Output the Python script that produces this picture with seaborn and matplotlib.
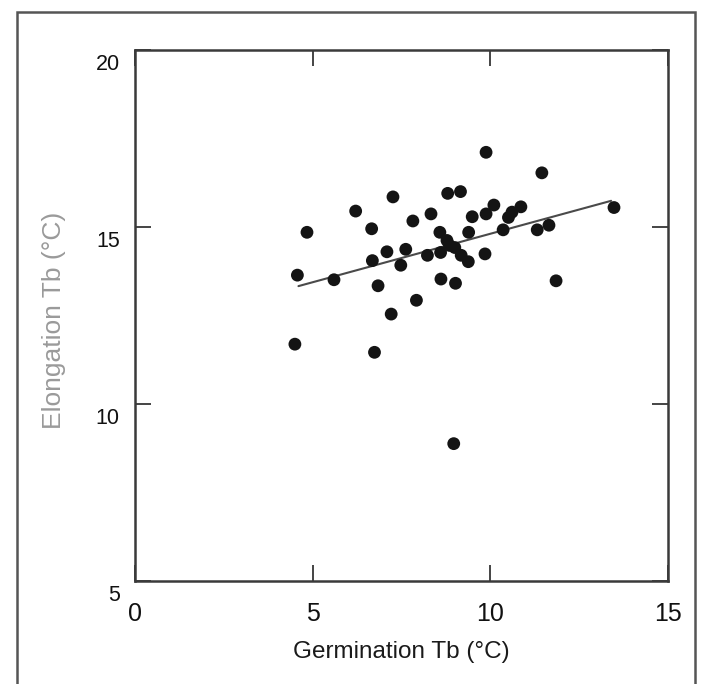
import matplotlib
matplotlib.use("Agg")
import matplotlib.pyplot as plt
import matplotlib.transforms as mtransforms
from matplotlib.patches import Rectangle
import seaborn as sns
import pandas as pd

# Points
germination_tb = [9.88, 11.45, 8.80, 9.16, 7.26, 6.21, 8.33, 7.82, 10.10, 9.88,
                  9.49, 10.86, 10.61, 10.51, 13.48, 4.84, 6.66, 10.36, 11.32, 11.65,
                  9.39, 8.58, 8.78, 9.00, 7.09, 7.62, 6.68, 7.48, 8.23, 9.18,
                  9.85, 9.38, 4.57, 5.60, 6.84, 8.61, 9.02, 11.85, 7.92, 7.21,
                  4.50, 6.74, 8.97, 8.60, 8.85]
elongation_tb = [17.11, 16.53, 15.95, 16.00, 15.85, 15.45, 15.37, 15.17, 15.62, 15.37,
                 15.29, 15.57, 15.42, 15.27, 15.55, 14.85, 14.95, 14.92, 14.92, 15.05,
                 14.85, 14.85, 14.62, 14.42, 14.30, 14.37, 14.05, 13.92, 14.20, 14.20,
                 14.24, 14.02, 13.64, 13.51, 13.34, 13.53, 13.41, 13.48, 12.93, 12.54,
                 11.69, 11.46, 8.88, 14.28, 14.48]

# fitted line, end points
fit_x = [4.6, 13.4]
fit_y = [13.33, 15.74]

x_ticks = [0, 5, 10, 15]
y_ticks = [5, 10, 15, 20]

df = pd.DataFrame({"germ": germination_tb, "elong": elongation_tb})
fit = pd.DataFrame({"x": fit_x, "y": fit_y})

sns.set_style("white")
plt.rcParams["font.family"] = ["Liberation Sans", "DejaVu Sans"]

fig = plt.figure(figsize=(7.02, 6.84), dpi=100)
ax = fig.add_axes([135 / 702, 1 - 581 / 684, 533 / 702, 531 / 684])

sns.scatterplot(data=df, x="germ", y="elong", ax=ax, s=85, color="#141414",
                edgecolor="none", zorder=3)
sns.lineplot(data=fit, x="x", y="y", ax=ax, color="#4a4a4a", linewidth=1.5, zorder=2)

ax.set_xlim(0, 15)
ax.set_ylim(5, 20)
ax.set_xticks(x_ticks)
ax.set_yticks(y_ticks)
ax.set_xticklabels([str(t) for t in x_ticks])
ax.set_yticklabels([str(t) for t in y_ticks])

ax.tick_params(axis="both", which="major", direction="in", length=11.5, width=1.4,
               color="#444444", top=True, right=True, bottom=True, left=True)
ax.tick_params(axis="x", labelsize=18, pad=15, labelcolor="#111111")
ax.tick_params(axis="y", labelsize=15.5, pad=11, labelcolor="#111111")

# y labels sit a bit below their ticks in the original
offset = mtransforms.ScaledTranslation(0, -3 / 72, fig.dpi_scale_trans)
for lab in ax.get_yticklabels():
    lab.set_verticalalignment("top")
    lab.set_transform(lab.get_transform() + offset)

for sp in ax.spines.values():
    sp.set_color("#3a3a3a")
    sp.set_linewidth(1.8)

ax.set_xlabel("Germination Tb (°C)", fontsize=17.5, color="#1a1a1a")
ax.set_ylabel("Elongation Tb (°C)", fontsize=19, color="#9a9a9a")
ax.xaxis.set_label_coords(0.5, -0.134)
ax.xaxis.label.set_va("center")
ax.yaxis.set_label_coords(-0.152, 0.49)
ax.yaxis.label.set_va("center")

# outer frame around the whole figure
fig.add_artist(Rectangle((17 / 702, -0.02), (695 - 17) / 702, 1 - 12 / 684 + 0.02,
                         transform=fig.transFigure, fill=False,
                         edgecolor="#555555", linewidth=1.8))

fig.savefig("out.png", dpi=100, facecolor="white")
